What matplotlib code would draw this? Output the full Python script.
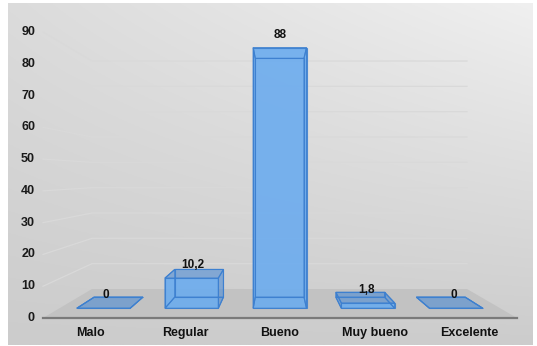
import matplotlib
matplotlib.use("Agg")
import matplotlib.pyplot as plt
from matplotlib.patches import Polygon
import numpy as np

plt.rcParams['font.family'] = ['Liberation Sans', 'DejaVu Sans']

# datos
categorias = ["Malo", "Regular", "Bueno", "Muy bueno", "Excelente"]
valores = [0, 10.2, 88, 1.8, 0]
etiquetas = ["0", "10,2", "88", "1,8", "0"]
ticks_y = [0, 10, 20, 30, 40, 50, 60, 70, 80, 90]

W, H = 537, 346


def proj(xw, v, z):
    # falsa perspectiva: z=0 frente, z=1 pared del fondo
    left = 43 + 49 * z
    width = 474 - 99 * z
    base = 318 - 29 * z
    scale = 3.178 - 0.645 * z
    return (left + xw * width, base - v * scale)


fig = plt.figure(figsize=(W / 100, H / 100), dpi=100)
fig.patch.set_facecolor("white")
ax = fig.add_axes([0, 0, 1, 1])
ax.set_xlim(0, W)
ax.set_ylim(H, 0)
ax.axis("off")

# fondo degradado
xs = np.linspace(0, 1, 200)
ys = np.linspace(0, 1, 200)
X, Y = np.meshgrid(xs, ys)
L = 0.80 + 0.06 * (1 - Y) + 0.08 * X * (1 - Y)
img = np.dstack([L, L, L])
ax.imshow(img, extent=(8, 533, 345, 3), aspect="auto", zorder=0)

# lineas de division (pared izquierda + fondo)
for v in ticks_y[1:]:
    pts = [proj(0, v, 0), proj(0, v, 1), proj(1, v, 1)]
    ax.plot([p[0] for p in pts], [p[1] for p in pts], color="#d9d9d9", lw=0.9, zorder=1)

# piso
piso = [proj(0, 0, 0), proj(1, 0, 0), proj(1, 0, 1), proj(0, 0, 1)]
ax.add_patch(Polygon(piso, closed=True, facecolor="#c2c2c2", edgecolor="none", zorder=2))
p0, p1 = proj(0, 0, 0), proj(1, 0, 0)
ax.plot([p0[0], p1[0]], [p0[1], p1[1]], color="#7a7a7a", lw=1.6, zorder=3)

# etiquetas eje y
for v in ticks_y:
    x, y = proj(0, v, 0)
    ax.text(35, y, str(v), ha="right", va="center", fontsize=9, fontweight="bold", color="#1a1a1a")

# barras 3d
n = len(categorias)
ancho = 0.0605
z0, z1 = 0.335, 0.72
for i, (cat, v, et) in enumerate(zip(categorias, valores, etiquetas)):
    c = (i + 0.5) / n
    xa, xb = c - ancho, c + ancho
    P = proj

    caras = [
        [P(xa, 0, z1), P(xb, 0, z1), P(xb, v, z1), P(xa, v, z1)],  # fondo
        [P(xa, 0, z0), P(xb, 0, z0), P(xb, 0, z1), P(xa, 0, z1)],  # base
        [P(xa, 0, z0), P(xa, 0, z1), P(xa, v, z1), P(xa, v, z0)],  # izq
        [P(xb, 0, z0), P(xb, 0, z1), P(xb, v, z1), P(xb, v, z0)],  # der
        [P(xa, v, z0), P(xb, v, z0), P(xb, v, z1), P(xa, v, z1)],  # tapa
        [P(xa, 0, z0), P(xb, 0, z0), P(xb, v, z0), P(xa, v, z0)],  # frente
    ]
    for k, cara in enumerate(caras):
        if k == 5:
            fc, alpha = "#6eaef0", 0.85
        else:
            fc, alpha = "#4a8ad6", 0.35
        ax.add_patch(Polygon(cara, closed=True, facecolor=fc, alpha=alpha,
                             edgecolor="none", zorder=4 + k * 0.1))
        ax.add_patch(Polygon(cara, closed=True, facecolor="none",
                             edgecolor="#3d80d0", lw=0.8, alpha=0.9, zorder=5))

    # etiqueta de valor
    xl, _ = proj(c, v, 0.4)
    _, yt = proj(c, v, z0)
    ax.text(xl, yt - 13, et, ha="center", va="center", fontsize=8.5,
            fontweight="bold", color="#111111", zorder=6)

    # categoria
    xc, _ = proj(c, 0, 0)
    ax.text(xc, 333, cat, ha="center", va="center", fontsize=9,
            fontweight="bold", color="#111111")

fig.savefig("out.png", dpi=100)
